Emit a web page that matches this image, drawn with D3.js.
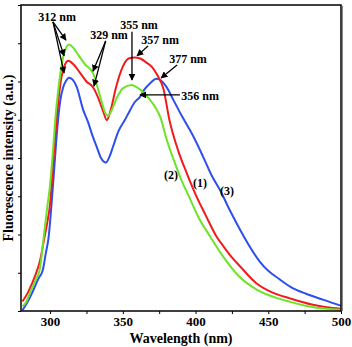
<!DOCTYPE html>
<html>
<head>
<meta charset="utf-8">
<script src="https://cdn.jsdelivr.net/npm/d3@7"></script>
<style>
  body { margin: 0; background: #fff; }
  svg { display: block; font-family: "Liberation Serif", "Times New Roman", serif; font-weight: bold; }
</style>
</head>
<body>
<svg width="352" height="347"></svg>
<script>
// spectra: [wavelength nm, intensity a.u.]
var series1 = [[281,0.25],[285,0.5],[290,0.95],[293,1.3],[296,1.9],[298,2.3],[300,2.8],[302,3.8],[304,4.8],[306,5.6],[308,6.15],[310,6.42],[312.5,6.54],[316,6.45],[320,6.26],[325,6.0],[329.5,5.85],[333,5.58],[336.5,5.22],[339,4.99],[342,5.3],[345,5.8],[350,6.39],[354,6.6],[358,6.63],[362,6.6],[366,6.5],[370,6.38],[374,6.15],[378,5.8],[382,5.0],[388,4.2],[394,3.6],[400,3.05],[407,2.5],[414.5,1.94],[419,1.7],[425,1.4],[431,1.15],[442,0.72],[453,0.48],[465,0.33],[480,0.17],[490,0.1],[500,0.06]];
var series2 = [[281,0.12],[283,0.2],[287,0.55],[290,0.8],[293,1.1],[295.5,1.9],[298,2.7],[300,3.3],[302,4.2],[304,5.2],[306,5.9],[308,6.45],[310,6.78],[313,6.97],[316,6.88],[319.5,6.69],[324,6.45],[329.5,6.22],[333,5.8],[336,5.4],[338,5.17],[340,5.1],[342,5.22],[346,5.58],[350,5.82],[356,5.91],[360,5.84],[364,5.72],[368,5.55],[372,5.35],[376,5.05],[380,4.5],[385,3.95],[390,3.45],[396,2.95],[402,2.45],[410,1.95],[419,1.42],[430,0.9],[442,0.56],[455,0.35],[465,0.24],[478,0.12],[490,0.06],[500,0.03]];
var series3 = [[281,0.02],[284,0.2],[288,0.5],[292,0.85],[295,1.07],[297,1.5],[299,1.93],[301,2.8],[303,3.8],[305,4.8],[307,5.5],[309,5.85],[311,6.02],[313,6.1],[315.5,6.05],[318.3,5.86],[322.8,5.25],[326,4.95],[329,4.6],[332,4.3],[335,4.0],[338.4,3.88],[341,4.05],[343.3,4.3],[347,4.7],[351.5,5.0],[355,5.25],[358,5.45],[361.8,5.6],[365,5.8],[368.7,5.95],[373,6.07],[376,6.03],[380,5.86],[385,5.5],[391,5.07],[398,4.6],[405,4.05],[411,3.55],[417,3.15],[424,2.6],[431,2.1],[437,1.7],[444,1.3],[450,1.05],[457,0.85],[465,0.64],[476,0.45],[488,0.29],[500,0.14]];

var xTicks = [300, 350, 400, 450, 500];
var xMinor = [325, 375, 425, 475];
var yTicks = [0, 1, 2, 3, 4, 5, 6, 7, 8];

// peak annotations in data units: label, label point, arrow from, arrow tips
var notes = [
  {text: "312 nm", at: [304.8, 7.69], from: [302, 7.56], to: [[310.9, 7.08], [309.6, 6.67], [309.6, 6.22]]},
  {text: "329 nm", at: [340.5, 7.22], from: [338.2, 7.06], to: [[329.5, 6.27], [330.2, 5.88]]},
  {text: "355 nm", at: [361.1, 7.48], from: [356.3, 7.3], to: [[356.3, 6.04]]},
  {text: "357 nm", at: [375.6, 7.09], from: [367.3, 6.93], to: [[359.8, 6.67]]},
  {text: "377 nm", at: [394.8, 6.59], from: [387.3, 6.43], to: [[376.3, 6.09]]},
  {text: "356 nm", at: [403.1, 5.62], from: [389.3, 5.65], to: [[361.8, 5.65]]}
];
var curveLabels = [["(2)", 383.1, 3.56], ["(1)", 403.1, 3.35], ["(3)", 421.6, 3.14]];

var svg = d3.select("svg"),
    margin = {top: 5, right: 11, bottom: 36, left: 21},
    width = +svg.attr("width") - margin.left - margin.right,
    height = +svg.attr("height") - margin.top - margin.bottom,
    g = svg.append("g").attr("transform", "translate(" + margin.left + "," + margin.top + ")");

var x = d3.scaleLinear().domain([280, 500]).range([0, width]);
var y = d3.scaleLinear().domain([0, 8]).range([height, 0]);

svg.append("defs").append("marker")
    .attr("id", "head")
    .attr("viewBox", "0 0 10 10")
    .attr("refX", 9).attr("refY", 5)
    .attr("markerWidth", 7).attr("markerHeight", 7)
    .attr("markerUnits", "userSpaceOnUse")
    .attr("orient", "auto")
  .append("path")
    .attr("d", "M0,0 L10,5 L0,10 Z")
    .attr("fill", "#000");

var line = d3.line()
    .x(function(d) { return x(d[0]); })
    .y(function(d) { return y(d[1]); })
    .curve(d3.curveMonotoneX);

var colors = ["#f01c1c", "#6fe22a", "#2c4fee"];
var order = [series3, series1, series2];
var ocol = [colors[2], colors[0], colors[1]];

g.selectAll(".spec")
    .data(order)
  .enter().append("path")
    .attr("class", "spec")
    .attr("fill", "none")
    .attr("stroke", function(d, i) { return ocol[i]; })
    .attr("stroke-width", 2)
    .attr("d", line);

// axes
g.append("g")
    .attr("transform", "translate(0," + height + ")")
    .call(d3.axisBottom(x).tickValues(xTicks).tickSize(3).tickFormat(d3.format("d")))
    .call(function(a) {
      a.select(".domain").remove();
      a.selectAll("text").attr("font-size", 13).attr("font-family", "Liberation Serif").attr("font-weight", "bold");
    });

g.append("g")
    .attr("transform", "translate(0," + height + ")")
    .call(d3.axisBottom(x).tickValues(xMinor).tickSize(3).tickFormat(""))
    .select(".domain").remove();

g.append("g")
    .call(d3.axisLeft(y).tickValues(yTicks).tickSize(3).tickFormat(""))
    .select(".domain").remove();

g.append("rect")
    .attr("width", width)
    .attr("height", height)
    .attr("fill", "none")
    .attr("stroke", "#000")
    .attr("stroke-width", 1.5);

g.append("line")
    .attr("x1", width + 1.5).attr("x2", width + 1.5)
    .attr("y1", 1).attr("y2", height)
    .attr("stroke", "#888")
    .attr("stroke-width", 1);

// annotations
notes.forEach(function(n) {
  g.append("text")
      .attr("x", x(n.at[0]))
      .attr("y", y(n.at[1]))
      .attr("dy", "0.35em")
      .attr("text-anchor", "middle")
      .attr("font-size", 12)
      .text(n.text);
  n.to.forEach(function(t) {
    g.append("line")
        .attr("x1", x(n.from[0])).attr("y1", y(n.from[1]))
        .attr("x2", x(t[0])).attr("y2", y(t[1]))
        .attr("stroke", "#000")
        .attr("stroke-width", 1.3)
        .attr("marker-end", "url(#head)");
  });
});

g.selectAll(".clab")
    .data(curveLabels)
  .enter().append("text")
    .attr("class", "clab")
    .attr("x", function(d) { return x(d[1]); })
    .attr("y", function(d) { return y(d[2]); })
    .attr("dy", "0.35em")
    .attr("text-anchor", "middle")
    .attr("font-size", 12)
    .text(function(d) { return d[0]; });

g.append("text")
    .attr("x", width / 2)
    .attr("y", height + 32)
    .attr("text-anchor", "middle")
    .attr("font-size", 14)
    .text("Wavelength (nm)");

g.append("text")
    .attr("transform", "rotate(-90)")
    .attr("x", -height / 2)
    .attr("y", -8)
    .attr("text-anchor", "middle")
    .attr("font-size", 14)
    .text("Fluorescence intensity (a.u.)");
</script>
</body>
</html>
